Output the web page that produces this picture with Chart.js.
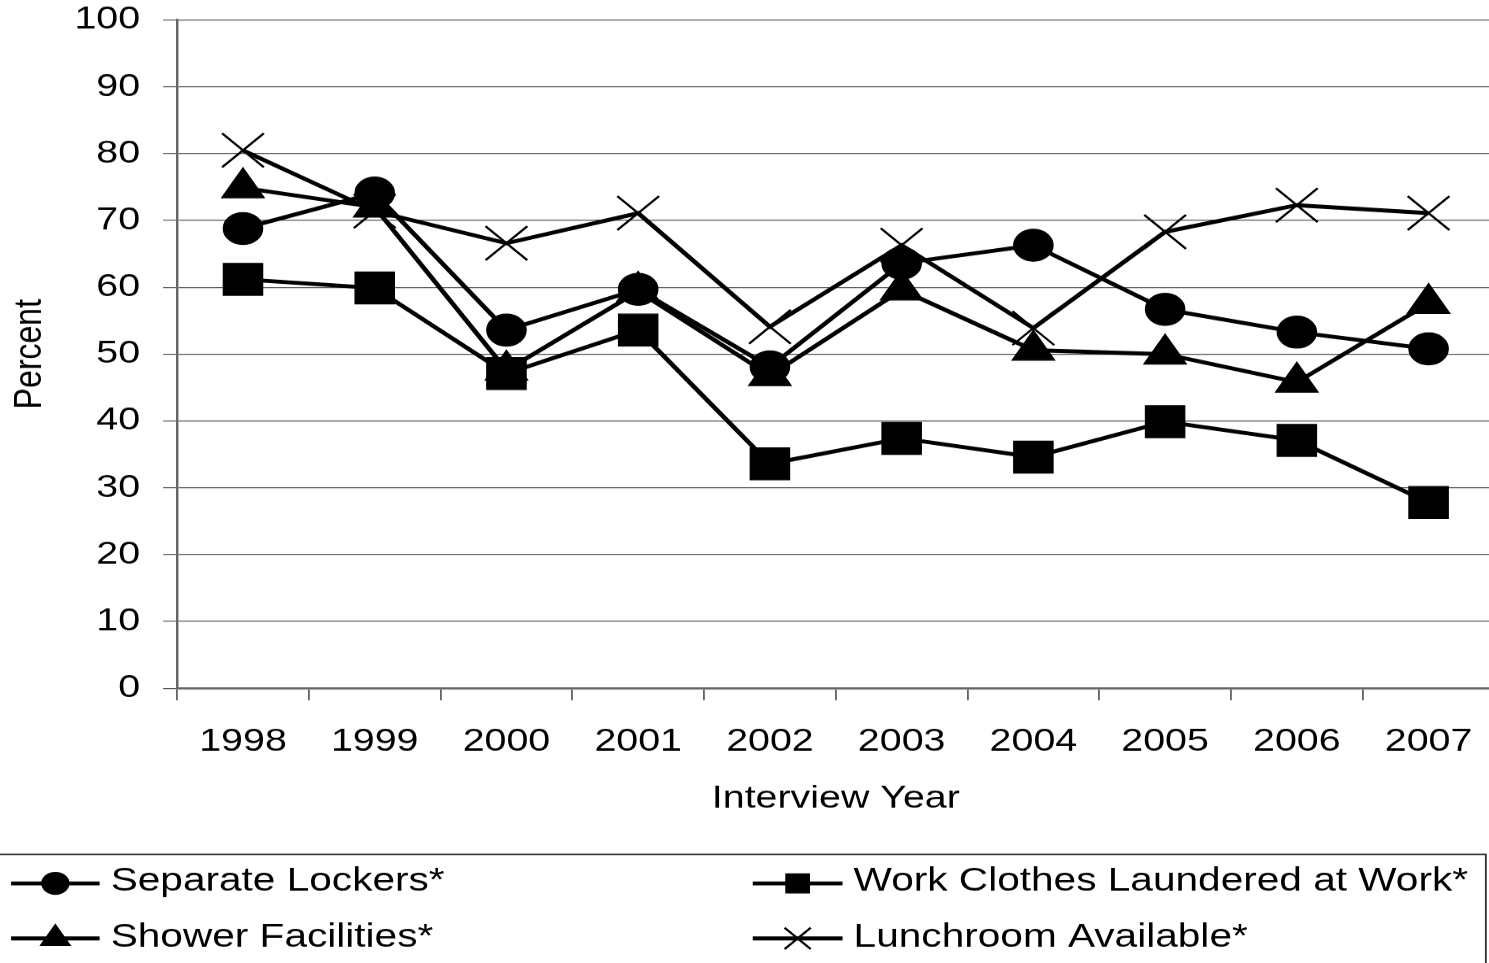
<!DOCTYPE html>
<html lang="en">
<head>
    <meta charset="UTF-8">
    <title>Workplace facilities by interview year</title>
    <style>
        html, body { margin: 0; padding: 0; background: #fff; overflow: hidden; }
    </style>
</head>
<body>
    <!-- the original picture is stretched sideways, so the canvas is too (inline style so Chart.js keeps it) -->
    <canvas id="grafico" width="1220" height="963" style="display:block;width:1500px;height:963px"></canvas>

    <script src="https://cdn.jsdelivr.net/npm/chart.js"></script>

    <script>

    const years = ['1998', '1999', '2000', '2001', '2002', '2003', '2004', '2005', '2006', '2007']

    const separateLockers  = [68.8, 74.1, 53.6, 59.7, 48.1, 63.6, 66.3, 56.7, 53.3, 50.8]
    const workClothes      = [61.2, 59.9, 47.1, 53.6, 33.6, 37.4, 34.6, 39.9, 37.1, 27.8]
    const showerFacilities = [74.9, 72.0, 47.6, 59.4, 46.8, 59.6, 50.6, 50.0, 45.8, 57.6]
    const lunchroom        = [80.5, 71.4, 66.6, 71.1, 54.1, 66.3, 53.9, 68.3, 72.3, 71.1]

    const yMin = 0
    const yMax = 100
    const yStep = 10

    const fonte = "'Liberation Sans', Arial, sans-serif"

    function serie(label, data, style, radius, pointBorder) {
        return {
            label: label,
            data: data,
            borderColor: '#000',
            backgroundColor: '#000',
            borderWidth: 4,
            tension: 0,
            pointStyle: style,
            pointRadius: radius,
            pointHoverRadius: radius,
            pointBorderWidth: pointBorder,
            pointBackgroundColor: '#000',
            pointBorderColor: '#000',
            legendRadius: style === 'circle' ? 11 : style === 'rect' ? 13.5 : style === 'triangle' ? 14 : 15
        }
    }

    // fallback in case the bundle does not expose helpers
    function desenharPonto(ctx, opts, x, y) {
        if (Chart.helpers && Chart.helpers.drawPoint) {
            Chart.helpers.drawPoint(ctx, opts, x, y);
            return;
        }
        const r = opts.radius;
        ctx.beginPath();
        if (opts.pointStyle === 'circle') {
            ctx.arc(x, y, r, 0, Math.PI * 2);
        } else if (opts.pointStyle === 'rect') {
            const s = Math.SQRT1_2 * r;
            ctx.rect(x - s, y - s, 2 * s, 2 * s);
        } else if (opts.pointStyle === 'triangle') {
            let a = 0;
            ctx.moveTo(x + Math.sin(a) * r, y - Math.cos(a) * r);
            a += 2 * Math.PI / 3;
            ctx.lineTo(x + Math.sin(a) * r, y - Math.cos(a) * r);
            a += 2 * Math.PI / 3;
            ctx.lineTo(x + Math.sin(a) * r, y - Math.cos(a) * r);
            ctx.closePath();
        } else {
            const o = Math.SQRT1_2 * r;
            ctx.moveTo(x - o, y - o); ctx.lineTo(x + o, y + o);
            ctx.moveTo(x - o, y + o); ctx.lineTo(x + o, y - o);
        }
        ctx.fill();
        if (opts.borderWidth > 0) ctx.stroke();
    }

    // boxed legend under the chart, two columns like the original
    const legendaCaixa = {
        id: 'legendaCaixa',
        afterDraw(chart, args, opts) {
            const ctx = chart.ctx;
            ctx.save();
            ctx.strokeStyle = '#333';
            ctx.lineWidth = 1.5;
            ctx.strokeRect(opts.boxLeft, opts.boxTop, opts.boxRight - opts.boxLeft, 300);

            chart.data.datasets.forEach(function(ds, i) {
                const col = opts.columns[i % 2];
                const row = opts.rows[Math.floor(i / 2)];

                ctx.strokeStyle = '#000';
                ctx.fillStyle = '#000';
                ctx.lineWidth = 4;
                ctx.beginPath();
                ctx.moveTo(col.x1, row.line);
                ctx.lineTo(col.x2, row.line);
                ctx.stroke();

                ctx.lineWidth = ds.pointStyle === 'crossRot' ? 2 : 1;
                desenharPonto(ctx, {
                    pointStyle: ds.pointStyle,
                    radius: ds.legendRadius,
                    borderWidth: ctx.lineWidth,
                    rotation: 0
                }, (col.x1 + col.x2) / 2, row.line);

                ctx.font = '33px ' + fonte;
                ctx.textAlign = 'left';
                ctx.textBaseline = 'middle';
                ctx.fillText(ds.label, col.text, row.text);
            });
            ctx.restore();
        }
    };

    new Chart(document.getElementById('grafico'), {
        type: 'line',
        data: {
            labels: years,
            datasets: [
                serie('Separate Lockers*', separateLockers, 'circle', 16, 1),
                serie('Work Clothes Laundered at Work*', workClothes, 'rect', 22.6, 1),
                serie('Shower Facilities*', showerFacilities, 'triangle', 20, 1),
                serie('Lunchroom Available*', lunchroom, 'crossRot', 24, 2)
            ]
        },
        options: {
            responsive: false,
            animation: false,
            devicePixelRatio: 1.23,
            layout: {
                autoPadding: false,
                padding: { left: 0, right: 5, top: 20, bottom: 135 }
            },
            plugins: {
                legend: { display: false },
                tooltip: { enabled: false },
                legendaCaixa: {
                    boxLeft: -2,
                    boxTop: 854,
                    boxRight: 1208,
                    columns: [
                        { x1: 9, x2: 81, text: 90 },
                        { x1: 612, x2: 685, text: 694 }
                    ],
                    rows: [
                        { line: 883, text: 881.5 },
                        { line: 938, text: 937 }
                    ]
                }
            },
            scales: {
                x: {
                    offset: true,
                    grid: {
                        offset: true,
                        drawOnChartArea: false,
                        drawTicks: true,
                        tickLength: 12,
                        color: '#666',
                        lineWidth: 1.5
                    },
                    border: { color: '#666', width: 2 },
                    ticks: {
                        color: '#000',
                        font: { family: fonte, size: 32 },
                        padding: 22,
                        maxRotation: 0,
                        autoSkip: false
                    },
                    title: {
                        display: true,
                        text: 'Interview Year',
                        color: '#000',
                        font: { family: fonte, size: 32 },
                        padding: { top: 0, bottom: 10 }
                    },
                    afterFit: function(s) {
                        s.height = 140;
                        s.paddingLeft = 0;
                        s.paddingRight = 0;
                    }
                },
                y: {
                    min: yMin,
                    max: yMax,
                    grid: {
                        color: '#555',
                        lineWidth: 1,
                        drawTicks: true,
                        tickLength: 11.4
                    },
                    border: { color: '#666', width: 2 },
                    ticks: {
                        stepSize: yStep,
                        color: '#000',
                        font: { family: fonte, size: 32 },
                        padding: 18.7
                    },
                    title: {
                        display: true,
                        text: 'Percent',
                        color: '#000',
                        font: { family: fonte, size: 32 },
                        padding: { top: 5, bottom: 0 }
                    },
                    afterFit: function(s) {
                        s.width = 144;
                        s.paddingTop = 0;
                        s.paddingBottom = 0;
                    }
                }
            }
        },
        plugins: [legendaCaixa]
    });

    </script>
</body>
</html>
